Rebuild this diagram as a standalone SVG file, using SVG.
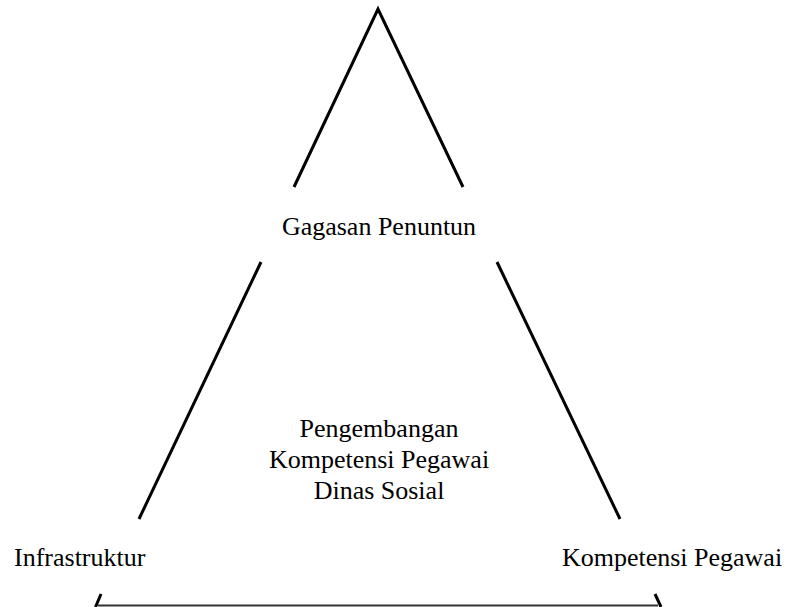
<svg xmlns="http://www.w3.org/2000/svg" width="793" height="607" viewBox="0 0 793 607">
<style>
.side{stroke:#000;stroke-width:3;fill:none;stroke-linecap:butt}
.base{stroke:#333;stroke-width:2;fill:none}
text{font-family:"Liberation Serif","Times New Roman",serif;font-size:26px;fill:#000}
</style>
<rect width="793" height="607" fill="#fff"/>
<g id="connectors">
<polyline class="side" points="294,187 378,9 463,187"/>
<line class="side" x1="261" y1="262" x2="139" y2="519"/>
<line class="side" x1="497" y1="262" x2="620" y2="519"/>
<line class="side" x1="101" y1="594" x2="95.5" y2="607"/>
<line class="side" x1="655" y1="594" x2="661" y2="607"/>
<line class="base" x1="98" y1="605.5" x2="658" y2="605.5"/>
</g>
<g id="top"><text x="379" y="235" text-anchor="middle">Gagasan Penuntun</text></g>
<g id="left"><text x="14" y="566">Infrastruktur</text></g>
<g id="right"><text x="672" y="566" text-anchor="middle" font-size="24.5">Kompetensi Pegawai</text></g>
<g id="center">
<text x="379" y="437" text-anchor="middle">Pengembangan</text>
<text x="379" y="468" text-anchor="middle">Kompetensi Pegawai</text>
<text x="379" y="499" text-anchor="middle">Dinas Sosial</text>
</g>
</svg>
